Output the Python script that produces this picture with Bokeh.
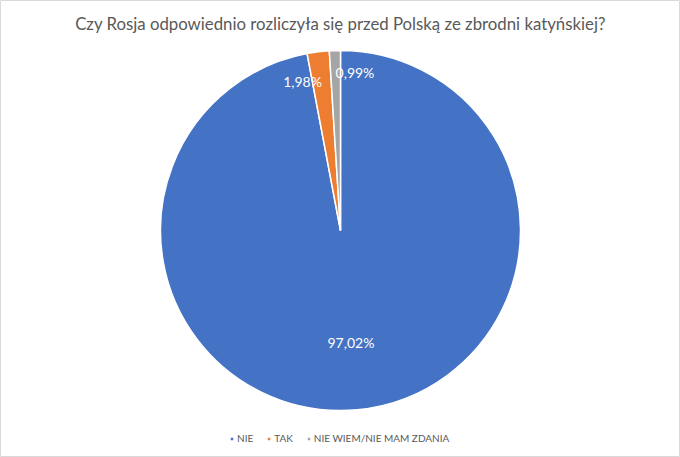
import math
from bokeh.plotting import figure
from bokeh.models import Range1d, ColumnDataSource, Legend, LegendItem
from bokeh.core.properties import value
from bokeh.embed import file_html
from bokeh.resources import INLINE

categories = ["NIE", "TAK", "NIE WIEM/NIE MAM ZDANIA"]
percents = [97.02, 1.98, 0.99]
labels = ["97,02%", "1,98%", "0,99%"]
colors = ["#4472C4", "#ED7D31", "#A5A5A5"]
title_text = "Czy Rosja odpowiednio rozliczyła się przed Polską ze zbrodni katyńskiej?"

W, H = 680, 457
cx, cy, R = 340, 227, 180

total = sum(percents)
starts, ends, mids = [], [], []
acc = 0.0
for v in percents:
    a0 = math.pi / 2 - 2 * math.pi * acc / total
    acc += v
    a1 = math.pi / 2 - 2 * math.pi * acc / total
    starts.append(a0)
    ends.append(a1)
    mids.append((a0 + a1) / 2)

src = ColumnDataSource(dict(start=starts, end=ends, color=colors, cat=categories))

p = figure(width=W, height=H, x_range=Range1d(0, W), y_range=Range1d(0, H),
           output_backend="svg", toolbar_location=None, min_border=0,
           background_fill_color="white", border_fill_color="white")
p.axis.visible = False
p.grid.visible = False
p.outline_line_color = "#D9D9D9"
p.outline_line_width = 1

r = p.wedge(x=cx, y=cy, radius=R, start_angle="start", end_angle="end", direction="clock",
            fill_color="color", line_color="white", line_width=1.5, source=src)

# data labels
dists = [112, 150, 158]
aligns = ["center", "right", "left"]
for lab, m, d, al in zip(labels, mids, dists, aligns):
    p.text(x=[cx + d * math.cos(m)], y=[cy + d * math.sin(m)], text=[lab],
           text_align=al, text_baseline="middle", text_color="white",
           text_font=value("Lato"), text_font_size="14px")

# title
p.text(x=[W / 2], y=[H - 23], text=[title_text], text_align="center", text_baseline="middle",
       text_color="#595959", text_font=value("Lato"), text_font_size="16.8px")

items = [LegendItem(label=c, renderers=[r], index=i) for i, c in enumerate(categories)]
legend = Legend(items=items, orientation="horizontal", location=(229, 13),
                glyph_width=5, glyph_height=5, label_text_font_size="10px",
                label_text_color="#595959", label_text_font="Lato",
                spacing=13, padding=0, margin=0, border_line_alpha=0,
                background_fill_alpha=0, label_standoff=3, label_width=10)
p.add_layout(legend)

open("out.html", "w").write(file_html(p, INLINE))
